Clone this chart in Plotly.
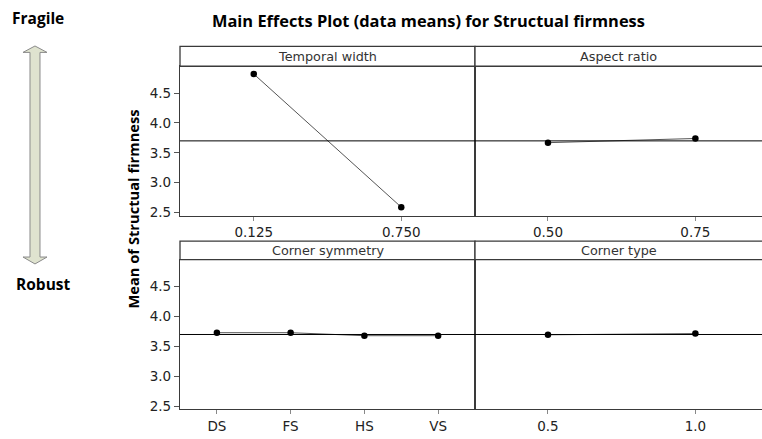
import plotly.graph_objects as go

# ---- data ----
tw_levels = ["0.125", "0.750"]
tw_means = [4.82, 2.59]
ar_levels = ["0.50", "0.75"]
ar_means = [3.67, 3.74]
cs_levels = ["DS", "FS", "HS", "VS"]
cs_means = [3.73, 3.73, 3.68, 3.68]
ct_levels = ["0.5", "1.0"]
ct_means = [3.695, 3.715]
grand_mean = 3.70
panel_titles = ["Temporal width", "Aspect ratio", "Corner symmetry", "Corner type"]

W, H = 762, 439

def fx(p):
    return p / W

def fy(p):
    return 1 - p / H

xL = [fx(180), fx(475)]
xR = [fx(475), 1.0]
yT = [fy(218), fy(67)]
yB = [fy(414), fy(262.7)]
strips = [(xL, fy(67), fy(47)), (xR, fy(67), fy(47)),
          (xL, fy(262.7), fy(244)), (xR, fy(262.7), fy(244))]

FRAME = "#3a3a3a"
TICKFONT = dict(family="DejaVu Sans", size=13.5, color="#222222")

fig = go.Figure()
series = [(tw_levels, tw_means), (ar_levels, ar_means), (cs_levels, cs_means), (ct_levels, ct_means)]
for i, (lv, mv) in enumerate(series):
    ax = "" if i == 0 else str(i + 1)
    fig.add_trace(go.Scatter(
        x=lv, y=mv, mode="lines+markers",
        line=dict(color="#555555", width=1),
        marker=dict(color="black", size=6.5),
        xaxis="x" + ax, yaxis="y" + ax, showlegend=False, cliponaxis=False))

layout = dict(width=W, height=H, margin=dict(l=0, r=0, t=0, b=0),
              plot_bgcolor="white", paper_bgcolor="white", showlegend=False)

xranges = [[-0.5, 1.5], [-0.495, 1.452], [-0.5, 3.5], [-0.495, 1.452]]
xdoms = [xL, xR, xL, xR]
ydoms = [yT, yT, yB, yB]
for i in range(4):
    ax = "" if i == 0 else str(i + 1)
    layout["xaxis" + ax] = dict(
        domain=xdoms[i], anchor="y" + ax, type="category", range=xranges[i],
        showline=True, mirror=True, linecolor=FRAME, linewidth=1.3,
        showgrid=False, zeroline=False, ticks="outside", ticklen=4,
        tickcolor="#888888", tickfont=TICKFONT, fixedrange=True)
    left = i in (0, 2)
    layout["yaxis" + ax] = dict(
        domain=ydoms[i], anchor="x" + ax, range=[2.45, 4.95],
        showline=True, mirror=left, linecolor=FRAME, linewidth=1.3,
        showgrid=False, zeroline=False,
        tick0=2.5, dtick=0.5, tickformat=".1f",
        ticks="outside" if left else "", ticklen=5, tickcolor="#555555",
        showticklabels=left, tickfont=TICKFONT, fixedrange=True)
fig.update_layout(**layout)

shapes = []
annotations = []
# reference (grand mean) lines
for i in range(4):
    ax = "" if i == 0 else str(i + 1)
    shapes.append(dict(type="line", xref="x" + ax + " domain", x0=0, x1=1,
                       yref="y" + ax, y0=grand_mean, y1=grand_mean,
                       line=dict(color="black", width=1)))
# strip headers
for (xd, y0, y1), t in zip(strips, panel_titles):
    shapes.append(dict(type="rect", xref="paper", yref="paper",
                       x0=xd[0], x1=xd[1] + (0.01 if xd[1] >= 1 else 0), y0=y0, y1=y1,
                       line=dict(color=FRAME, width=1.3), fillcolor="white"))
    annotations.append(dict(text=t, xref="paper", yref="paper",
                            x=(xd[0] + xd[1]) / 2, y=(y0 + y1) / 2,
                            showarrow=False, xanchor="center", yanchor="middle",
                            font=dict(family="DejaVu Sans", size=12.8, color="#333333")))

# double arrow on the left
pts = [(35, 46.5), (47, 53), (40, 53), (40, 260), (47, 260), (35, 267),
       (23, 260), (30, 260), (30, 53), (23, 53)]
path = "M " + " L ".join(f"{fx(px):.5f},{fy(py):.5f}" for px, py in pts) + " Z"
shapes.append(dict(type="path", xref="paper", yref="paper", path=path,
                   fillcolor="#dfe3cf", line=dict(color="#8a8a8a", width=1)))

BOLD = dict(family="Open Sans", size=15.5, color="black")
annotations += [
    dict(text="<b>Main Effects Plot (data means) for Structual firmness</b>",
         xref="paper", yref="paper", x=fx(428), y=fy(21), showarrow=False,
         xanchor="center", yanchor="middle",
         font=dict(family="Open Sans", size=16.4, color="black")),
    dict(text="<b>Fragile</b>", xref="paper", yref="paper", x=fx(38), y=fy(18),
         showarrow=False, xanchor="center", yanchor="middle", font=BOLD),
    dict(text="<b>Robust</b>", xref="paper", yref="paper", x=fx(43), y=fy(287),
         showarrow=False, xanchor="center", yanchor="middle", font=BOLD),
    dict(text="<b>Mean of Structual firmness</b>", xref="paper", yref="paper",
         x=fx(133), y=fy(212), showarrow=False, textangle=-90,
         xanchor="center", yanchor="middle",
         font=dict(family="Open Sans", size=14.7, color="black")),
]
fig.update_layout(shapes=shapes, annotations=annotations)

fig.write_html("out.html", config={"displayModeBar": False},
               post_script="document.body.style.margin='0';document.body.style.overflow='hidden';")
